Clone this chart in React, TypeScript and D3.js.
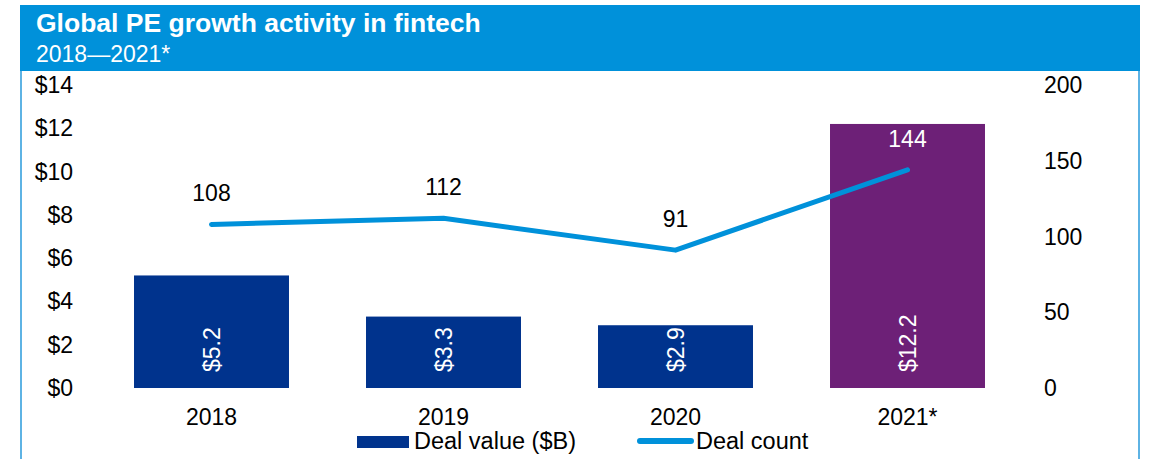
import React from "react";
import * as d3 from "d3";

const categories = ["2018", "2019", "2020", "2021*"];
const dealValue = [5.2, 3.3, 2.9, 12.2];
const dealCount = [108, 112, 91, 144];
const leftTicks = [0, 2, 4, 6, 8, 10, 12, 14];
const rightTicks = [0, 50, 100, 150, 200];
const barColors = ["#00338D", "#00338D", "#00338D", "#6D2077"];

const W = 1155;
const H = 459;
const FONT = "'Liberation Sans', Arial, sans-serif";
const FS = 23;

export default function App() {
  const x = d3.scaleBand<string>().domain(categories).range([95.5, 1023.5]).paddingInner(0.332).paddingOuter(0.166);
  const yL = d3.scaleLinear().domain([0, 14]).range([388, 85]);
  const yR = d3.scaleLinear().domain([0, 200]).range([388, 85]);
  const cx = (c: string) => (x(c) as number) + x.bandwidth() / 2;
  const line = d3
    .line<number>()
    .x((_, i) => cx(categories[i]))
    .y((d) => yR(d));

  return (
    <svg width={W} height={H} style={{ position: "absolute", left: 0, top: 0 }} fontFamily={FONT}>
      <rect x={0} y={0} width={W} height={H} fill="#fff" />
      <rect x={20} y={5} width={1120} height={66} fill="#0091DA" />
      <line x1={21} y1={71} x2={21} y2={H} stroke="#5EB3E4" strokeWidth={2} />
      <line x1={1139} y1={71} x2={1139} y2={H} stroke="#5EB3E4" strokeWidth={2} />
      <text x={36} y={32} fill="#fff" fontSize={26.5} fontWeight="bold">
        Global PE growth activity in fintech
      </text>
      <text x={36} y={62} fill="#fff" fontSize={23}>
        2018—2021*
      </text>

      {leftTicks.map((t) => (
        <text key={"l" + t} x={73} y={yL(t)} textAnchor="end" dominantBaseline="central" fontSize={FS} fill="#000">
          {"$" + t}
        </text>
      ))}
      {rightTicks.map((t) => (
        <text key={"r" + t} x={1044} y={yR(t)} textAnchor="start" dominantBaseline="central" fontSize={FS} fill="#000">
          {t}
        </text>
      ))}

      {categories.map((c, i) => (
        <rect
          key={"b" + c}
          x={x(c)}
          y={yL(dealValue[i])}
          width={x.bandwidth()}
          height={yL(0) - yL(dealValue[i])}
          fill={barColors[i]}
        />
      ))}
      {categories.map((c, i) => (
        <text
          key={"bl" + c}
          transform={`translate(${cx(c)},372) rotate(-90)`}
          textAnchor="start"
          dominantBaseline="central"
          fontSize={FS}
          fill="#fff"
        >
          {"$" + dealValue[i].toFixed(1)}
        </text>
      ))}

      <path d={line(dealCount) || ""} fill="none" stroke="#0091DA" strokeWidth={5} strokeLinecap="round" strokeLinejoin="round" />
      {categories.map((c, i) => (
        <text
          key={"ll" + c}
          x={cx(c)}
          y={yR(dealCount[i]) - 31}
          textAnchor="middle"
          dominantBaseline="central"
          fontSize={FS}
          fill={i === 3 ? "#fff" : "#000"}
        >
          {dealCount[i]}
        </text>
      ))}

      {categories.map((c) => (
        <text key={"c" + c} x={cx(c)} y={417} textAnchor="middle" dominantBaseline="central" fontSize={FS} fill="#000">
          {c}
        </text>
      ))}

      <rect x={357} y={436} width={52} height={12} fill="#00338D" />
      <text x={414} y={441} dominantBaseline="central" fontSize={23.5} fill="#000">
        Deal value ($B)
      </text>
      <line x1={640} y1={441} x2={691} y2={441} stroke="#0091DA" strokeWidth={6} strokeLinecap="round" />
      <text x={696} y={441} dominantBaseline="central" fontSize={23.5} fill="#000">
        Deal count
      </text>
    </svg>
  );
}
